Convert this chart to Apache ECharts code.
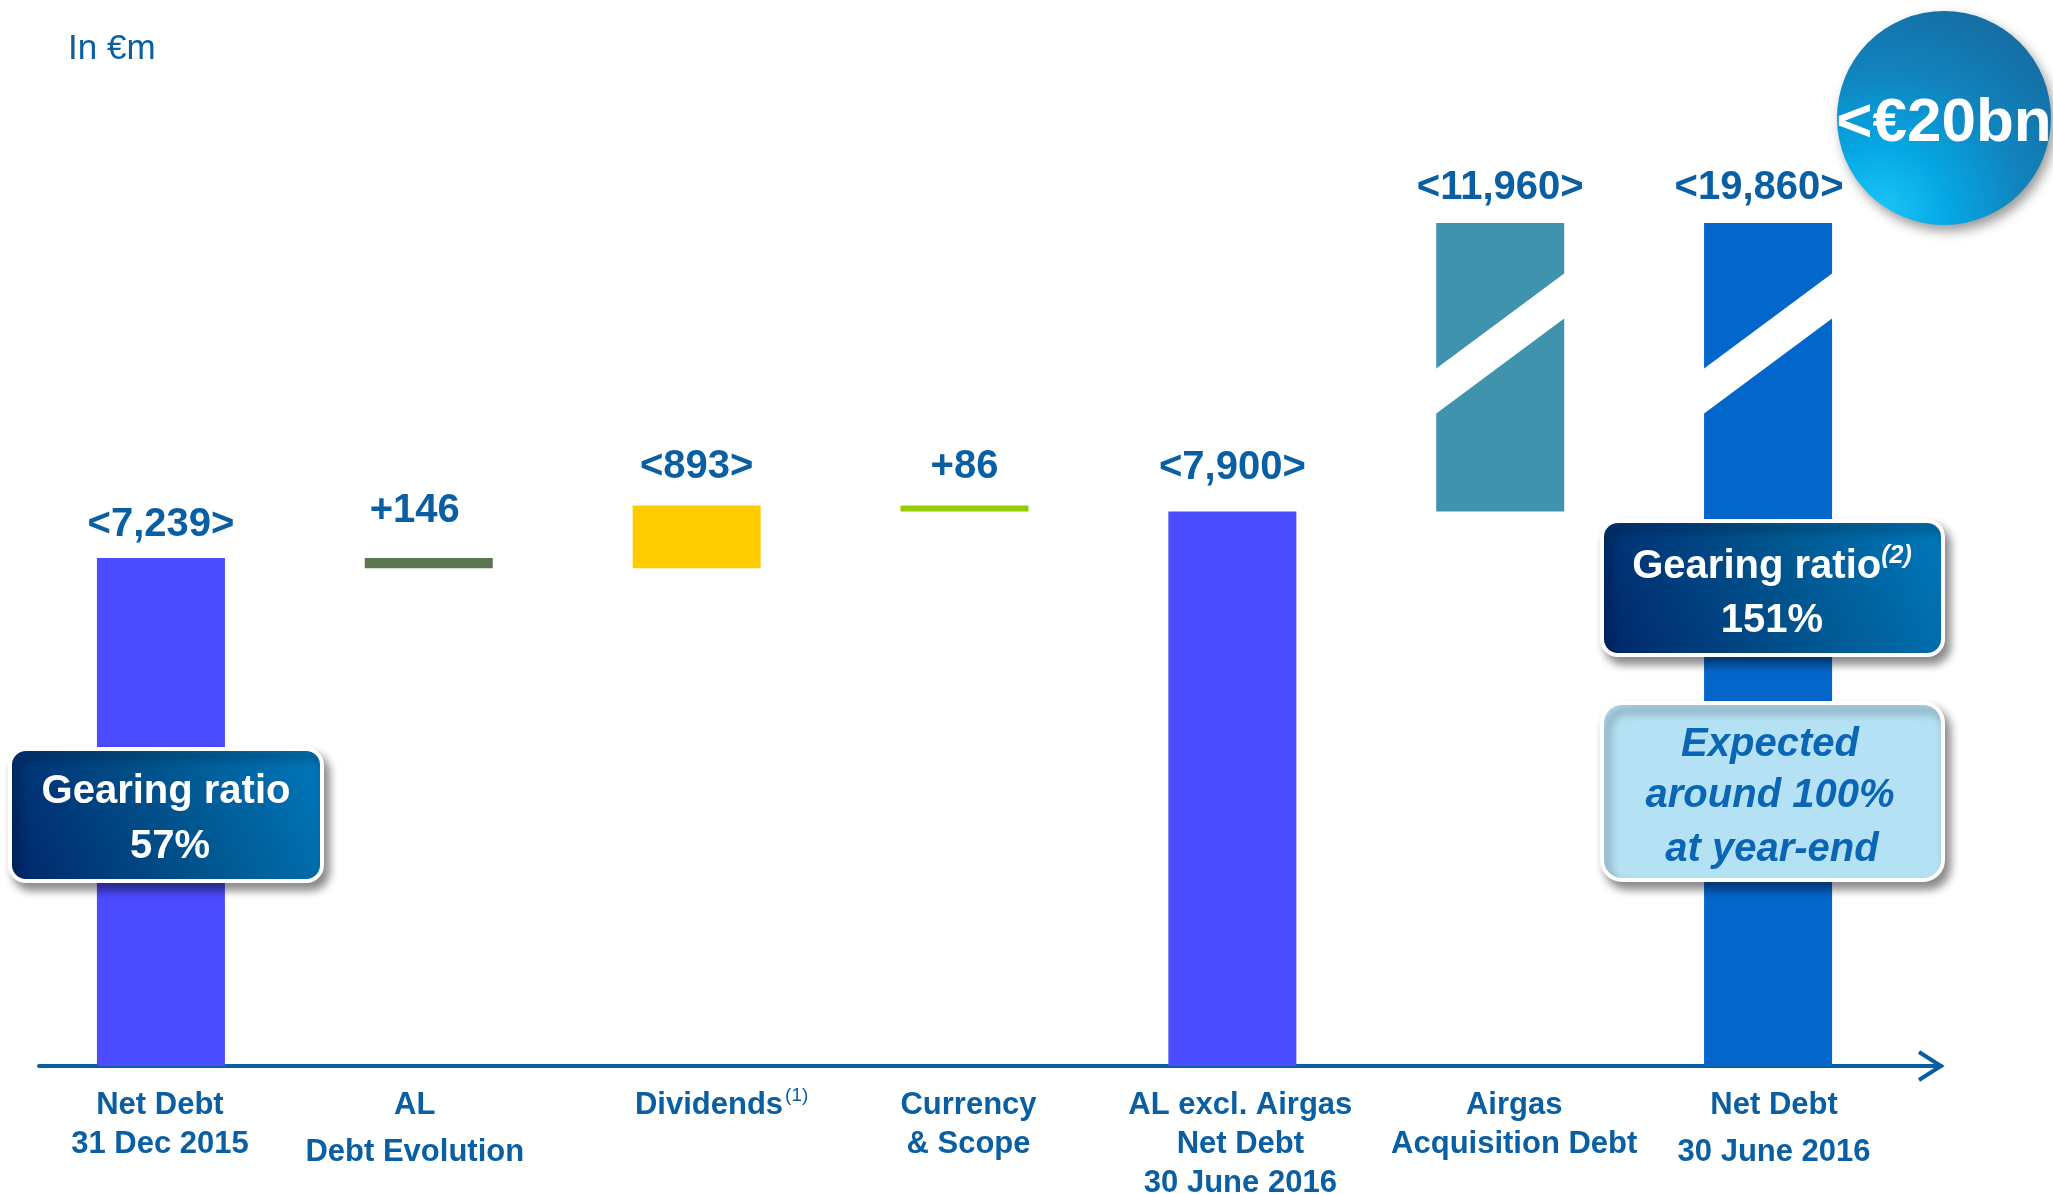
<!DOCTYPE html>
<html><head><meta charset="utf-8">
<style>html,body{margin:0;padding:0;background:#fff;}#c{width:2053px;height:1194px;}</style>
<script src="https://cdn.jsdelivr.net/npm/echarts@6/dist/echarts.min.js"></script>
</head><body><div id="c"></div>
<script>
// ---------- data ----------
const categories = ['Net Debt\n31 Dec 2015', 'AL\nDebt Evolution', 'Dividends', 'Currency\n& Scope',
  'AL excl. Airgas\nNet Debt\n30 June 2016', 'Airgas\nAcquisition Debt', 'Net Debt\n30 June 2016'];
const barBase   = [0, 7093, 7093, 7900, 0, 7900, 0];
const barValues = [7239, 146, 893, 86, 7900, 11960, 19860];
const valueLabels = ['<7,239>', '+146', '<893>', '+86', '<7,900>', '<11,960>', '<19,860>'];
const categoryFootnotes = ['', '', '(1)', '', '', '', ''];
const brokenBars = [5, 6];
const axisBreak = { start: 10300, end: 18150 };

// ---------- styles ----------
const BLUE = '#0A5FA3';
const FF = '"Liberation Sans", Arial, Helvetica, sans-serif';
const barColors = ['#4B4BFF', '#5B7550', '#FFCC00', '#99CC00', '#4B4BFF', '#3F93AD', '#0366CB'];
const BAR_W = 128;
const labelDist = [11, 25, 16, 16, 22, 13, 13];
const labelDx = [0, -14, 0, 0, 0, 0, -9];
const catDx = [-1, -14, 25, 4, 8, 14, 6];
const wideSecondLine = [false, true, false, false, false, false, true];

const chart = echarts.init(document.getElementById('c'), null, { renderer: 'canvas' });

const rich = {};
catDx.forEach((dx, i) => {
  const pad = dx >= 0 ? [0, 0, 0, 2 * dx] : [0, -2 * dx, 0, 0];
  rich['a' + i] = { fontFamily: FF, fontSize: 31, fontWeight: 'bold', color: BLUE, lineHeight: 39, padding: pad };
  rich['w' + i] = { fontFamily: FF, fontSize: 31, fontWeight: 'bold', color: BLUE, lineHeight: 55, padding: pad };
});
rich.s = { fontFamily: FF, fontSize: 19, fontWeight: 'normal', color: BLUE, lineHeight: 24, verticalAlign: 'top', padding: [0, 0, 0, 2] };

function catLabel(value, idx) {
  const lines = value.split('\n');
  return lines.map((ln, i) => {
    const st = ((i === 1 && wideSecondLine[idx]) ? 'w' : 'a') + idx;
    let s = '{' + st + '|' + ln + '}';
    if (i === 0 && categoryFootnotes[idx]) s += '{s|' + categoryFootnotes[idx] + '}';
    return s;
  }).join('\n');
}

const visibleData = barValues.map((v, i) => ({
  value: v,
  itemStyle: { color: barColors[i] },
  label: { distance: labelDist[i], offset: [labelDx[i], 0] }
}));

const boxGrad = () => new echarts.graphic.LinearGradient(0, 1, 1, 0, [
  { offset: 0, color: '#00256A' }, { offset: 0.55, color: '#00568F' }, { offset: 1, color: '#0079BC' }
]);
const shadow = { shadowBlur: 10, shadowOffsetX: 5, shadowOffsetY: 7, shadowColor: 'rgba(0,0,0,0.45)' };
const T = (x, y, text, font, fill, z) => ({ type: 'text', z: z || 21, x: x, y: y,
  style: { text: text, font: font, fill: fill, align: 'center', verticalAlign: 'middle' } });

const option = {
  animation: false,
  backgroundColor: '#fff',
  grid: [
    { left: 27, right: 151, top: 143, bottom: 128, outerBoundsMode: 'none', containLabel: false },
    { left: 39, right: 112, top: 1000, bottom: 128, outerBoundsMode: 'none', containLabel: false }
  ],
  xAxis: [
    {
      type: 'category', data: categories, gridIndex: 0,
      axisLine: { show: false }, axisTick: { show: false },
      axisLabel: { interval: 0, margin: 20, formatter: catLabel, rich: rich, verticalAlign: 'top' }
    },
    {
      type: 'value', gridIndex: 1, min: 0, max: 1,
      axisLine: { show: true, onZero: false, lineStyle: { color: BLUE, width: 4 } },
      axisTick: { show: false }, axisLabel: { show: false }, splitLine: { show: false }
    }
  ],
  yAxis: [
    {
      type: 'value', gridIndex: 0, min: 0, max: 21000, show: false,
      splitLine: { show: false },
      breaks: [{ start: axisBreak.start, end: axisBreak.end, gap: 0 }],
      breakArea: { show: false }
    },
    { type: 'value', gridIndex: 1, show: false }
  ],
  series: [
    {
      type: 'bar', stack: 'w', data: barBase, barWidth: BAR_W, silent: true,
      itemStyle: { color: 'rgba(0,0,0,0)' }
    },
    {
      type: 'bar', stack: 'w', data: visibleData, barWidth: BAR_W, silent: true,
      label: {
        show: true, position: 'top',
        formatter: p => valueLabels[p.dataIndex],
        fontFamily: FF, fontSize: 40, fontWeight: 'bold', color: BLUE, lineHeight: 44
      }
    },
    {
      type: 'custom', silent: true, z: 5,
      data: brokenBars.map(i => [i, axisBreak.start]),
      encode: { x: 0, y: 1 },
      renderItem: (params, api) => {
        const p = api.coord([api.value(0), api.value(1)]);
        const x = p[0], y = p[1], hw = BAR_W / 2 + 2;
        return {
          type: 'polygon',
          shape: { points: [[x - hw, y + 27], [x + hw, y - 71], [x + hw, y - 26], [x - hw, y + 72]] },
          style: { fill: '#ffffff' }
        };
      }
    }
  ],
  graphic: [
    { type: 'text', left: 68, top: 32, style: { text: 'In €m', font: 'normal 35px ' + FF, fill: BLUE } },
    // axis arrow head
    { type: 'polyline', z: 10, shape: { points: [[1919, 1052], [1941, 1066], [1919, 1080]] },
      style: { stroke: BLUE, lineWidth: 4, fill: null } },
    // gearing box 1
    { type: 'rect', z: 20, shape: { x: 10, y: 749, width: 312, height: 132, r: 16 },
      style: Object.assign({ fill: boxGrad(), stroke: '#fff', lineWidth: 4 }, shadow) },
    T(166, 792, 'Gearing ratio', 'bold 40px ' + FF, '#fff'),
    T(170, 847, '57%', 'bold 40px ' + FF, '#fff'),
    // gearing box 2
    { type: 'rect', z: 20, shape: { x: 1602, y: 521, width: 341, height: 134, r: 16 },
      style: Object.assign({ fill: boxGrad(), stroke: '#fff', lineWidth: 4 }, shadow) },
    { type: 'text', z: 21, x: 1772, y: 567, style: {
        text: '{m|Gearing ratio}{s|(2)}', align: 'center', verticalAlign: 'middle',
        rich: { m: { font: 'bold 40px ' + FF, fill: '#fff', color: '#fff', lineHeight: 46 },
                s: { font: 'italic bold 25px ' + FF, fill: '#fff', color: '#fff', lineHeight: 30, verticalAlign: 'top' } } } },
    T(1772, 621, '151%', 'bold 40px ' + FF, '#fff'),
    // expected box
    { type: 'rect', z: 20, shape: { x: 1602, y: 703, width: 341, height: 177, r: 20 },
      style: Object.assign({ fill: '#B5E1F5', stroke: '#fff', lineWidth: 4 }, shadow) },
    T(1770, 745, 'Expected', 'italic bold 40px ' + FF, '#0A66B4'),
    T(1770, 796, 'around 100%', 'italic bold 40px ' + FF, '#0A66B4'),
    T(1772, 850, 'at year-end', 'italic bold 40px ' + FF, '#0A66B4'),
    // bubble
    { type: 'circle', z: 30, shape: { cx: 1944, cy: 118, r: 107 },
      style: Object.assign({ fill: new echarts.graphic.RadialGradient(0.2, 0.95, 1.05, [
        { offset: 0, color: '#1CC6F8' }, { offset: 0.3, color: '#05A8E4' }, { offset: 0.65, color: '#1182BC' }, { offset: 1, color: '#166DA3' }
      ]) }, { shadowBlur: 12, shadowOffsetX: 4, shadowOffsetY: 6, shadowColor: 'rgba(0,0,0,0.4)' }) },
    T(1944, 124, '<€20bn', 'bold 62px ' + FF, '#fff', 31)
  ]
};
chart.setOption(option);
</script></body></html>
